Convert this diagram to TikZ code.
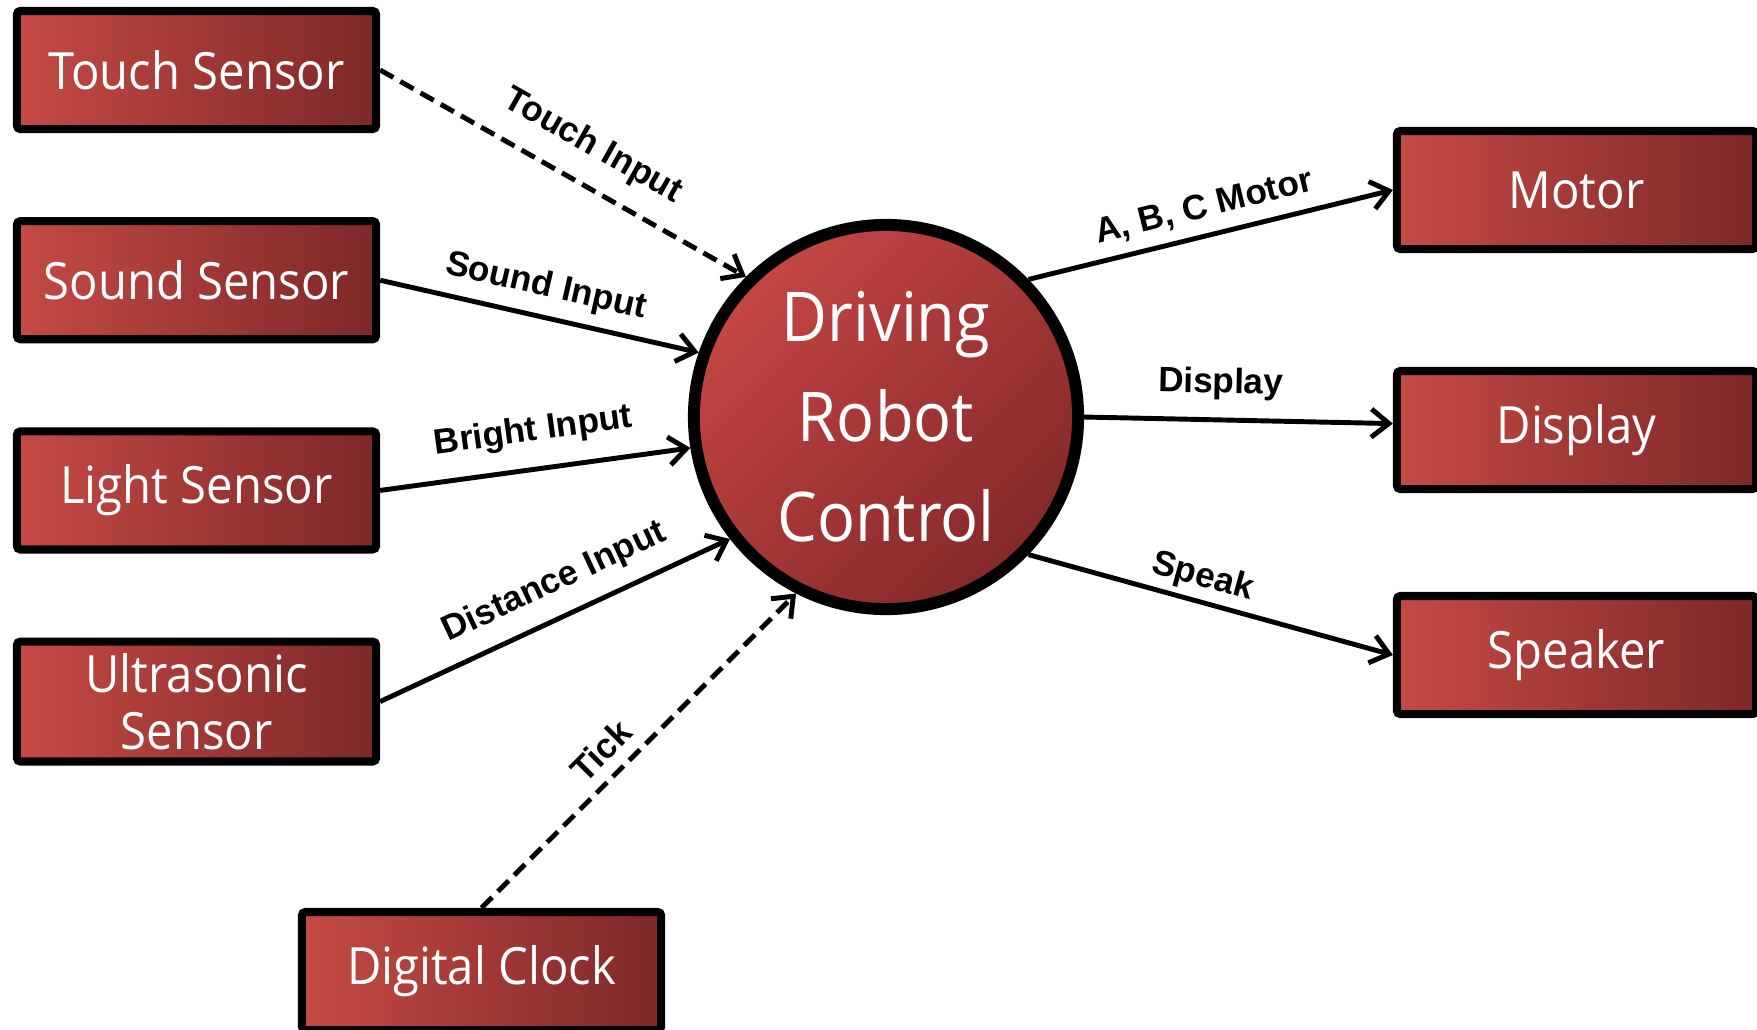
\documentclass[tikz,border=0pt]{standalone}
\usepackage{fontspec}
\usetikzlibrary{arrows.meta}
\usetikzlibrary{positioning}
\newfontfamily\boxfont[FakeStretch=0.92]{Open Sans}
\newfontfamily\lblfont{Liberation Sans}
\definecolor{brick}{RGB}{197,74,68}
\definecolor{darkbrick}{RGB}{125,40,40}
\definecolor{hublight}{RGB}{196,70,68}
\definecolor{hubdark}{RGB}{132,40,40}

\begin{document}
\begin{tikzpicture}[
        x=0.01cm, y=-0.01cm,
        unit/.style={rectangle, draw=black, line width=2.3pt,
          rounded corners=1pt, left color=brick, right color=darkbrick,
          minimum width=3.59cm, minimum height=1.18cm, align=center,
          text=white, font=\boxfont\fontsize{14.6}{16.2}\selectfont},
        hub/.style={circle, draw=black, line width=3.4pt,
          top color=hublight, bottom color=hubdark, shading angle=45,
          minimum size=3.84cm, inner sep=0pt, align=center,
          text=white, font=\boxfont\fontsize{19.5}{28.45}\selectfont},
        flow/.style={-{Straight Barb[length=5pt, width=8pt]}, line width=1.4pt},
        event/.style={flow, dash pattern=on 4.3pt off 2.3pt},
        lbl/.style={font=\lblfont\bfseries\fontsize{10}{12}\selectfont,
          sloped, above},
      ]
      \useasboundingbox (0,0) rectangle (1757,1029);

      % Sensors on the left
      \node[unit] (touch) at (196.5,70) {Touch Sensor};
      \node[unit, below=0.84cm of touch] (sound) {Sound Sensor};
      \node[unit, below=0.84cm of sound] (light) {Light Sensor};
      \node[unit, below=0.84cm of light] (ultra) {Ultrasonic\\Sensor};

      % Timer
      \node[unit] (clock) at (481.5,971) {Digital Clock};

      % Controller
      \node[hub] (drc) at (886,417) {Driving\\Robot\\Control};

      % Actuators on the right
      \node[unit] (motor) at (1576.5,190) {Motor};
      \node[unit] (display) at (1576.5,430) {Display};
      \node[unit] (speaker) at (1576.5,655) {Speaker};

      % Inputs
      \draw[event] (touch.east) -- node[lbl, pos=0.53, inner ysep=5.5pt] {Touch Input} (drc.135);
      \draw[flow] (sound.east) -- node[lbl, pos=0.5, inner ysep=3.2pt] {Sound Input} (drc.161);
      \draw[flow] (light.east) -- node[lbl, pos=0.51, inner ysep=5.2pt] {Bright Input} (drc.189);
      \draw[flow] (ultra.east) -- node[lbl, pos=0.54, inner ysep=4.4pt] {Distance Input} (drc.218);
      \draw[event] (clock.north) -- node[lbl, pos=0.44, inner ysep=3.3pt] {Tick} (drc.243);

      % Outputs
      \draw[flow] (drc.44) -- node[lbl, pos=0.5, inner ysep=2.9pt] {A, B, C Motor} (motor.west);
      \draw[flow] (drc.0) -- node[lbl, pos=0.44, inner ysep=4.9pt] {Display} (display.178.4);
      \draw[flow] (drc.-44) -- node[lbl, pos=0.46, inner ysep=1.5pt] {Speak} (speaker.west);

      \end{tikzpicture}
\end{document}
